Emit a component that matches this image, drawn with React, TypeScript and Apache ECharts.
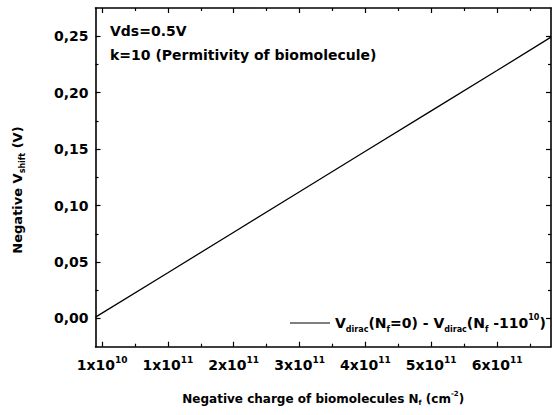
import React, { useEffect, useRef } from 'react';
import * as echarts from 'echarts';

// Data
const nfValues = [-1e10, 1e11, 2e11, 3e11, 4e11, 5e11, 6e11, 6.82e11];
const vShiftValues = [0.0012, 0.0405, 0.0764, 0.1122, 0.1481, 0.1839, 0.2197, 0.2492];

const xTickValues = [0, 1e11, 2e11, 3e11, 4e11, 5e11, 6e11];
const xTickMantissas = ['1x10', '1x10', '2x10', '3x10', '4x10', '5x10', '6x10'];
const xTickExponents = ['10', '11', '11', '11', '11', '11', '11'];
const xMinorTickValues = [0.5e11, 1.5e11, 2.5e11, 3.5e11, 4.5e11, 5.5e11, 6.5e11];

const yTickValues = [0, 0.05, 0.1, 0.15, 0.2, 0.25];
const yTickLabels = ['0,00', '0,05', '0,10', '0,15', '0,20', '0,25'];
const yMinorTickValues = [0.025, 0.075, 0.125, 0.175, 0.225];

const X_MIN = -1e10;
const X_MAX = 6.82e11;
const Y_MIN = -0.025;
const Y_MAX = 0.275;

const FONT = 'DejaVu Sans';
const BLACK = '#000';

function findIndex(arr: number[], v: number) {
  for (let i = 0; i < arr.length; i++) {
    if (Math.abs(arr[i] - v) <= Math.abs(arr[i]) * 1e-6 + 1e-9) return i;
  }
  return -1;
}

export default function App() {
  const ref = useRef<HTMLDivElement>(null);

  useEffect(() => {
    if (!ref.current) return;
    const chart = echarts.init(ref.current, null, { renderer: 'svg' });

    const gridPos = { left: 95.5, right: 2, top: 8, bottom: 68.3, containLabel: false };
    const lineStyle = { color: BLACK, width: 1.6 };

    const majorX = (position: 'bottom' | 'top', showLabel: boolean, gridIndex: number, ticks: number[], len: number, showLine: boolean) => ({
      type: 'value',
      gridIndex,
      position,
      min: X_MIN,
      max: X_MAX,
      axisLine: { show: showLine, onZero: false, lineStyle },
      splitLine: { show: false },
      axisTick: { show: true, inside: true, length: len, customValues: ticks, lineStyle: { color: BLACK, width: 1.2 } },
      axisLabel: showLabel
        ? {
            show: true,
            margin: 9,
            customValues: xTickValues,
            formatter: (v: number) => {
              const i = findIndex(xTickValues, v);
              if (i < 0) return '';
              return `{m|${xTickMantissas[i]}}{p|${xTickExponents[i]}}`;
            },
            rich: {
              m: { fontFamily: FONT, fontWeight: 'bold', fontSize: 14, color: BLACK, lineHeight: 18 },
              p: { fontFamily: FONT, fontWeight: 'bold', fontSize: 9, color: BLACK, verticalAlign: 'top', lineHeight: 9 },
            },
          }
        : { show: false },
    });

    const majorY = (position: 'left' | 'right', showLabel: boolean, gridIndex: number, ticks: number[], len: number, showLine: boolean) => ({
      type: 'value',
      gridIndex,
      position,
      min: Y_MIN,
      max: Y_MAX,
      axisLine: { show: showLine, onZero: false, lineStyle },
      splitLine: { show: false },
      axisTick: { show: true, inside: true, length: len, customValues: ticks, lineStyle: { color: BLACK, width: 1.2 } },
      axisLabel: showLabel
        ? {
            show: true,
            margin: 7,
            customValues: yTickValues,
            fontFamily: FONT,
            fontWeight: 'bold',
            fontSize: 14,
            color: BLACK,
            formatter: (v: number) => {
              const i = findIndex(yTickValues, v);
              return i < 0 ? '' : yTickLabels[i];
            },
          }
        : { show: false },
    });

    const xAxisMain: any = majorX('bottom', true, 0, xTickValues, 5, true);
    xAxisMain.name = '{m|Negative charge of biomolecules N}{s|f}{m| (cm}{p|-2}{m|)}';
    xAxisMain.nameLocation = 'middle';
    xAxisMain.nameGap = 44;
    xAxisMain.nameTextStyle = {
      rich: {
        m: { fontFamily: FONT, fontWeight: 'bold', fontSize: 12, color: BLACK, lineHeight: 16 },
        s: { fontFamily: FONT, fontWeight: 'bold', fontSize: 7, color: BLACK, verticalAlign: 'bottom', lineHeight: 7 },
        p: { fontFamily: FONT, fontWeight: 'bold', fontSize: 7, color: BLACK, verticalAlign: 'top', lineHeight: 7 },
      },
    };

    const option: any = {
      animation: false,
      backgroundColor: '#fff',
      grid: [gridPos, gridPos],
      xAxis: [
        xAxisMain,
        majorX('top', false, 0, xTickValues, 5, true),
        majorX('bottom', false, 1, xMinorTickValues, 3, false),
        majorX('top', false, 1, xMinorTickValues, 3, false),
      ],
      yAxis: [
        majorY('left', true, 0, yTickValues, 5, true),
        majorY('right', false, 0, yTickValues, 5, true),
        majorY('left', false, 1, yMinorTickValues, 3, false),
        majorY('right', false, 1, yMinorTickValues, 3, false),
      ],
      legend: {
        show: true,
        left: 285,
        top: 308,
        itemWidth: 40,
        itemHeight: 14,
        itemGap: 5,
        data: [{ name: 'Vshift', icon: 'path://M0,0 L40,0 L40,1 L0,1 Z' }],
        itemStyle: { color: BLACK },
        formatter: () =>
          '{m|V}{s|dirac}{m|(N}{s|f}{m|=0) - V}{s|dirac}{m|(N}{s|f}{m| -110}{p|10}{m|)}',
        textStyle: {
          rich: {
            m: { fontFamily: FONT, fontWeight: 'bold', fontSize: 14, color: BLACK, lineHeight: 20 },
            s: { fontFamily: FONT, fontWeight: 'bold', fontSize: 8, color: BLACK, verticalAlign: 'bottom', lineHeight: 8 },
            p: { fontFamily: FONT, fontWeight: 'bold', fontSize: 8, color: BLACK, verticalAlign: 'top', lineHeight: 8 },
          },
        },
      },
      graphic: [
        {
          type: 'text',
          left: 110,
          top: 24,
          style: { text: 'Vds=0.5V', fontFamily: FONT, fontWeight: 'bold', fontSize: 14, fill: BLACK },
        },
        {
          type: 'text',
          left: 110,
          top: 48,
          style: { text: 'k=10 (Permitivity of biomolecule)', fontFamily: FONT, fontWeight: 'bold', fontSize: 14, fill: BLACK },
        },
        {
          type: 'text',
          x: 17,
          y: 190,
          rotation: Math.PI / 2,
          style: {
            text: '{m|Negative V}{s|shift}{m| (V)}',
            align: 'center',
            verticalAlign: 'middle',
            rich: {
              m: { fontFamily: FONT, fontWeight: 'bold', fontSize: 13, fill: BLACK, lineHeight: 18 },
              s: { fontFamily: FONT, fontWeight: 'bold', fontSize: 8, fill: BLACK, verticalAlign: 'bottom', lineHeight: 8 },
            },
          },
        },
      ],
      series: [
        {
          name: 'Vshift',
          type: 'line',
          xAxisIndex: 0,
          yAxisIndex: 0,
          data: nfValues.map((x, i) => [x, vShiftValues[i]]),
          symbol: 'none',
          lineStyle: { color: BLACK, width: 1.3 },
          itemStyle: { color: BLACK },
        },
      ],
    };

    chart.setOption(option);
    return () => chart.dispose();
  }, []);

  return (
    <div
      ref={ref}
      style={{ position: 'absolute', left: 0, top: 0, width: 553, height: 415, background: '#fff' }}
    />
  );
}
